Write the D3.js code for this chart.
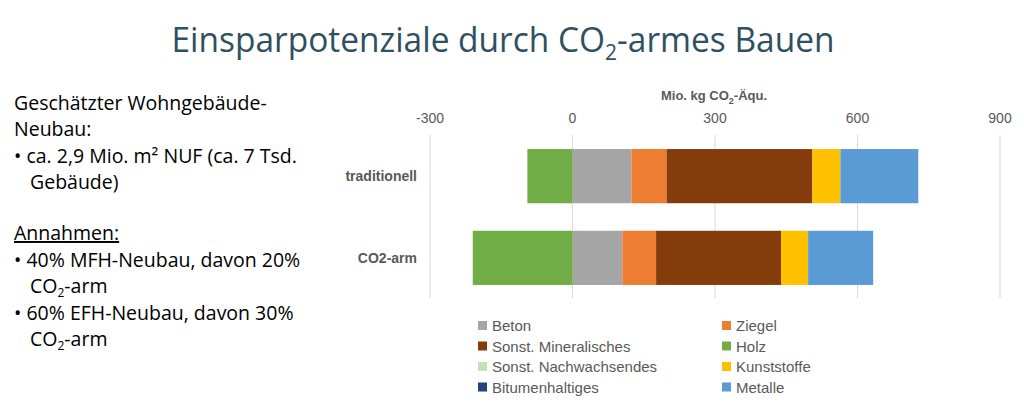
<!DOCTYPE html><html><head><meta charset="utf-8">
<script src="https://cdn.jsdelivr.net/npm/d3@7"></script>
<style>body{margin:0;background:#fff}</style></head><body><svg id="c" width="1024" height="403"></svg>
<script>
const categories=["traditionell","CO2-arm"];
const seriesNames=["Beton","Ziegel","Sonst. Mineralisches","Holz","Sonst. Nachwachsendes","Kunststoffe","Bitumenhaltiges","Metalle"];
const colors=["#a5a5a5","#ed7d31","#843c0c","#70ad47","#c5e0b4","#ffc000","#264478","#5b9bd5"];
const values={
 "traditionell":{"Beton":124,"Ziegel":74,"Sonst. Mineralisches":307,"Holz":-95,"Sonst. Nachwachsendes":0,"Kunststoffe":59,"Bitumenhaltiges":0,"Metalle":164},
 "CO2-arm":{"Beton":105,"Ziegel":71,"Sonst. Mineralisches":263,"Holz":-210,"Sonst. Nachwachsendes":0,"Kunststoffe":57,"Bitumenhaltiges":0,"Metalle":137}
};
const ticks=[-300,0,300,600,900];
const svg=d3.select("#c");
const F="'Open Sans',sans-serif";
const t=svg.append("text").attr("x",503).attr("y",52).attr("text-anchor","middle").attr("font-family",F).attr("font-size",35).attr("textLength",663).attr("lengthAdjust","spacingAndGlyphs").attr("fill","#2f5060");
t.append("tspan").text("Einsparpotenziale durch CO");
t.append("tspan").attr("font-size",22).attr("dy",8).text("2");
t.append("tspan").attr("dy",-8).text("-armes Bauen");
const L=[[14,110,"Geschätzter Wohngebäude-"],[14,136,"Neubau:"],[14,163,"• ca. 2,9 Mio. m² NUF (ca. 7 Tsd."],[30,189,"Gebäude)"],[14,240,"Annahmen:",1],[14,267,"• 40% MFH-Neubau, davon 20%"],[30,293,"CO|2|-arm"],[14,320,"• 60% EFH-Neubau, davon 30%"],[30,346,"CO|2|-arm"]];
L.forEach(d=>{const e=svg.append("text").attr("x",d[0]).attr("y",d[1]).attr("font-family",F).attr("font-size",19.5).attr("fill","#000");
 if(d[3])e.attr("text-decoration","underline");
 const p=d[2].split("|");
 if(p.length==3){e.append("tspan").text(p[0]);e.append("tspan").attr("font-size",12).attr("dy",4).text(p[1]);e.append("tspan").attr("dy",-4).text(p[2]);} else e.text(d[2]);});
const x=d3.scaleLinear().domain([-300,900]).range([430,1000]);
const y=d3.scaleBand().domain(categories).range([132.7,301.3]).paddingInner(0.337).paddingOuter(0.2);
const GF="Arial,'Liberation Sans',sans-serif";
const at=svg.append("text").attr("x",714).attr("y",100).attr("text-anchor","middle").attr("font-family",GF).attr("font-weight","bold").attr("font-size",13).attr("fill","#595959");
at.append("tspan").text("Mio. kg CO");at.append("tspan").attr("font-size",9).attr("dy",4).text("2");at.append("tspan").attr("dy",-4).text("-Äqu.");
svg.append("g").selectAll("text").data(ticks).join("text").attr("x",d=>x(d)).attr("y",123).attr("text-anchor","middle").attr("font-family",GF).attr("font-size",14).attr("fill","#595959").text(d=>d);
svg.append("g").selectAll("line").data(ticks).join("line").attr("x1",d=>x(d)).attr("x2",d=>x(d)).attr("y1",135).attr("y2",298).attr("stroke","#d9d9d9").attr("stroke-width",1);
const stack=d3.stack().keys(seriesNames).offset(d3.stackOffsetDiverging)(categories.map(c=>Object.assign({cat:c},values[c])));
svg.append("g").selectAll("g").data(stack).join("g").attr("fill",(d,i)=>colors[i])
 .selectAll("rect").data(d=>d).join("rect").attr("x",d=>x(Math.min(d[0],d[1]))).attr("width",d=>Math.abs(x(d[1])-x(d[0])))
 .attr("y",d=>y(d.data.cat)).attr("height",y.bandwidth());
svg.append("g").selectAll("text").data(categories).join("text").attr("x",417).attr("y",d=>y(d)+y.bandwidth()/2+5).attr("text-anchor","end").attr("font-family",GF).attr("font-weight","bold").attr("font-size",14).attr("fill","#595959").text(d=>d);
const lg=svg.append("g").selectAll("g").data(seriesNames).join("g").attr("transform",(d,i)=>`translate(${i%2?722:478},${326+Math.floor(i/2)*20.5})`);
lg.append("rect").attr("x",0).attr("y",-5).attr("width",9).attr("height",9).attr("fill",(d,i)=>colors[i]);
lg.append("text").attr("x",14).attr("y",5).attr("font-family",GF).attr("font-size",15).attr("fill","#595959").text(d=>d);
</script></body></html>
